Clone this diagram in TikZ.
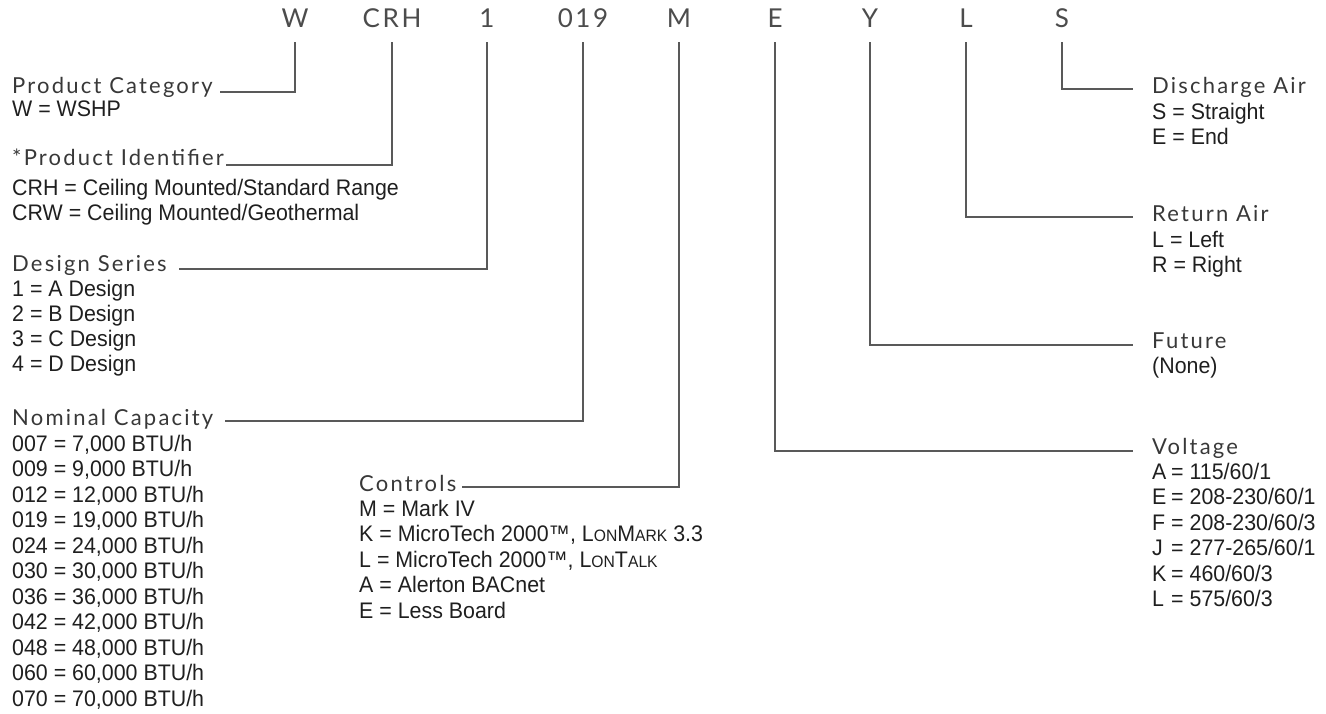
\documentclass[tikz,border=0pt]{standalone}
\usepackage{fontspec}
\setmainfont[FakeStretch=0.95]{Liberation Sans}
\newfontfamily\hfont[LetterSpace=10]{Lato}
\newfontfamily\cfont[LetterSpace=10]{Lato}
\newcommand{\smc}[1]{{\fontsize{16.5}{16.5}\selectfont #1}}
\begin{document}
\begin{tikzpicture}[x=1pt,y=-1pt,
  code/.style={font=\cfont\fontsize{26}{26}\selectfont, text=black!70, inner sep=0pt, anchor=base},
  head/.style={font=\hfont\fontsize{22}{22}\selectfont, text=black!78, inner sep=0pt, anchor=base west},
  item/.style={font=\fontsize{22.5}{22.5}\selectfont, text=black!88, inner sep=0pt, anchor=base west},
  conn/.style={draw=black!65, line width=1.3pt}]
\useasboundingbox (0,0) rectangle (1326,713);
% code letters
\node[code] (cW)   at (295,27)  {W};
\node[code] (cCRH) at (392,27)  {CRH};
\node[code] (c1)   at (487,27)  {1};
\node[code] (c019) at (583,27)  {019};
\node[code] (cM)   at (679,27)  {M};
\node[code] (cE)   at (775,27)  {E};
\node[code] (cY)   at (870,27)  {Y};
\node[code] (cL)   at (966,27)  {L};
\node[code] (cS)   at (1062,27) {S};
% left headings
\node[head] (hPC) at (12,93)  {Product Category};
\node[item] (iPC1) at (12,116) {W = WSHP};
\node[head] (hPI) at (12,165) {*Product Identifier};
\node[item] (iPI1) at (12,195) {CRH = Ceiling Mounted/Standard Range};
\node[item] (iPI2) at (12,220) {CRW = Ceiling Mounted/Geothermal};
\node[head] (hDS) at (12,271) {Design Series};
\foreach \t [count=\i] in {1 = A Design, 2 = B Design, 3 = C Design, 4 = D Design}
  \node[item, name=iDS\i] at (12,{271+25*\i}) {\t};
\node[head] (hNC) at (12,425) {Nominal Capacity};
\foreach \t [count=\i] in {{007 = 7,000 BTU/h},{009 = 9,000 BTU/h},{012 = 12,000 BTU/h},{019 = 19,000 BTU/h},{024 = 24,000 BTU/h},{030 = 30,000 BTU/h},{036 = 36,000 BTU/h},{042 = 42,000 BTU/h},{048 = 48,000 BTU/h},{060 = 60,000 BTU/h},{070 = 70,000 BTU/h}}
  \node[item, name=iNC\i] at (12,{425.5+25.5*\i}) {\t};
% controls
\node[head] (hCT) at (359,491) {Controls};
\node[item] (iCT1) at (359,516) {M = Mark IV};
\node[item] (iCT2) at (359,541.5) {K = MicroTech 2000™, L\smc{ON}M\smc{ARK} 3.3};
\node[item] (iCT3) at (359,567) {L = MicroTech 2000™, L\smc{ON}T\smc{ALK}};
\node[item] (iCT4) at (359,592.5) {A = Alerton BACnet};
\node[item] (iCT5) at (359,618) {E = Less Board};
% right headings
\node[head] (hDA) at (1152,93) {Discharge Air};
\node[item] (iDA1) at (1152,119) {S = Straight};
\node[item] (iDA2) at (1152,144) {E = End};
\node[head] (hRA) at (1152,221) {Return Air};
\node[item] (iRA1) at (1152,247) {L = Left};
\node[item] (iRA2) at (1152,272.5) {R = Right};
\node[head] (hFU) at (1152,348) {Future};
\node[item] (iFU1) at (1152,373) {(None)};
\node[head] (hVO) at (1152,454) {Voltage};
\foreach \a/\b [count=\i] in {A/115\slash 60\slash 1, E/208-230\slash 60\slash 1, F/208-230\slash 60\slash 3, J/277-265\slash 60\slash 1, K/460\slash 60\slash 3, L/575\slash 60\slash 3}
  \node[item, name=iVO\i] at (1152,{453.5+25.5*\i}) {\makebox[19pt][l]{\a}= \b};
% connectors
\draw[conn] ([yshift=-15pt]cW.base)   |- ([xshift=7pt,yshift=1pt]hPC.base east);
\draw[conn] ([yshift=-15pt]cCRH.base) |- ([xshift=2pt]hPI.base east);
\draw[conn] ([yshift=-15pt]c1.base)   |- ([xshift=12pt,yshift=2pt]hDS.base east);
\draw[conn] ([yshift=-15pt]c019.base) |- ([xshift=12pt,yshift=4pt]hNC.base east);
\draw[conn] ([yshift=-15pt]cM.base)   |- ([xshift=5pt,yshift=4pt]hCT.base east);
\draw[conn] ([yshift=-15pt]cE.base)   |- ([xshift=-19pt,yshift=3pt]hVO.base west);
\draw[conn] ([yshift=-15pt]cY.base)   |- ([xshift=-19pt,yshift=3pt]hFU.base west);
\draw[conn] ([yshift=-15pt]cL.base)   |- ([xshift=-19pt,yshift=4pt]hRA.base west);
\draw[conn] ([yshift=-15pt]cS.base)   |- ([xshift=-19pt,yshift=4pt]hDA.base west);
\end{tikzpicture}
\end{document}
